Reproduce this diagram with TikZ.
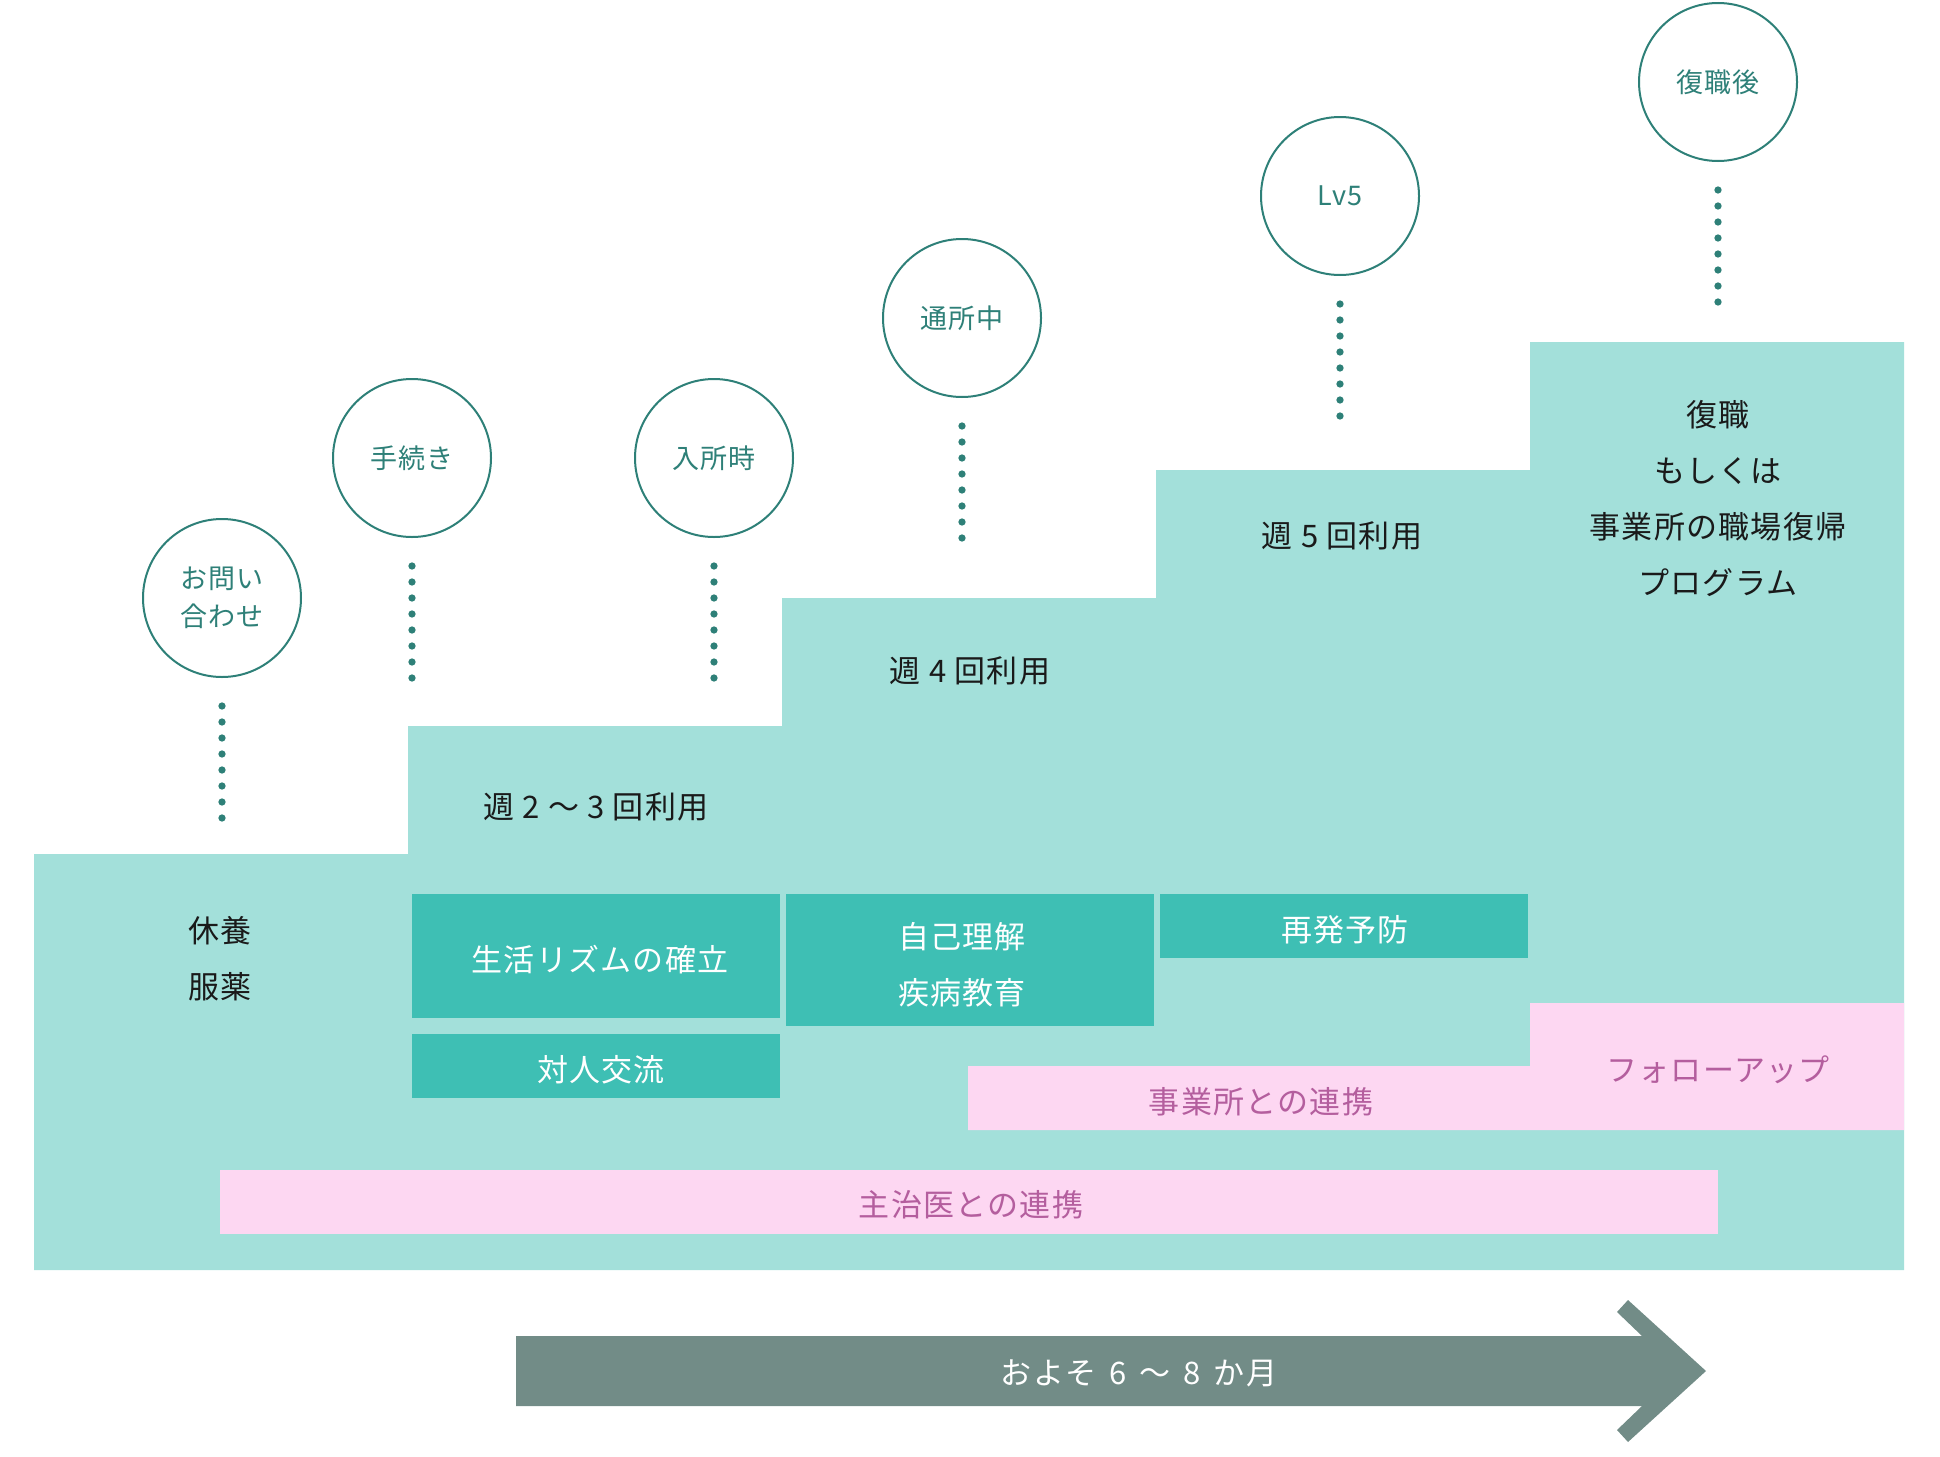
\documentclass[tikz,border=0pt]{standalone}
\usepackage{fontspec}
\setmainfont{Noto Sans CJK JP}[LetterSpace=4]
\definecolor{stepbg}{HTML}{A3E0DA}
\definecolor{boxteal}{HTML}{3EBFB4}
\definecolor{pinkbg}{HTML}{FDD7F2}
\definecolor{pinktxt}{HTML}{B45E9E}
\definecolor{arrowgray}{HTML}{728C87}
\definecolor{darkteal}{HTML}{2E8078}
\definecolor{txtblack}{HTML}{1A1A1A}
\begin{document}
\begin{tikzpicture}[x=1pt,y=-1pt,
  milestone/.style={circle,draw=darkteal,line width=2pt,fill=white,minimum size=158pt,inner sep=0pt,
    text=darkteal,align=center,font=\fontsize{27}{38}\selectfont},
  dotline/.style={draw=darkteal,line width=7.3pt,line cap=round,dash pattern=on 0pt off 16pt},
  steptext/.style={text=txtblack,align=center,inner sep=0pt,font=\fontsize{31}{56}\selectfont},
  boxtext/.style={text=white,align=center,inner sep=0pt,font=\fontsize{31}{56}\selectfont},
  tealbox/.style={fill=boxteal,inner sep=0pt,minimum width=368pt},
  pinkbox/.style={fill=pinkbg,inner sep=0pt},
  pinktext/.style={text=pinktxt,inner sep=0pt,font=\fontsize{31}{56}\selectfont}]
\useasboundingbox (0,0) rectangle (1940,1456);

% staircase background
\fill[stepbg] (34,854) -- (408,854) -- (408,726) -- (782,726) -- (782,598) -- (1156,598)
  -- (1156,470) -- (1530,470) -- (1530,342) -- (1904,342) -- (1904,1270) -- (34,1270) -- cycle;

% milestones
\node[milestone] (c1) at (222,598) {お問い\\合わせ};
\node[milestone] (c2) at (412,458) {手続き};
\node[milestone] (c3) at (714,458) {入所時};
\node[milestone] (c4) at (962,318) {通所中};
\node[milestone] (c5) at (1340,196) {Lv5};
\node[milestone] (c6) at (1718,82) {復職後};

\foreach \c in {c1,c2,c3,c4,c5,c6}{
  \draw[dotline] ([yshift=-28pt]\c.south) -- ++(0,112.5);
}

% step texts
\node[steptext] (rest) at (220,959) {休養\\服薬};
\node[steptext] (w23) at (596,807) {週 2 ～ 3 回利用};
\node[steptext] (w4) at (970,671) {週 4 回利用};
\node[steptext] (w5) at (1342,536) {週 5 回利用};
\node[steptext] (ret) at (1718,499) {復職\\もしくは\\事業所の職場復帰\\プログラム};

% teal boxes
\node[tealbox,minimum height=124pt] (rhythm) at (596,956) {};
\node[tealbox,minimum height=132pt] (self) at (970,960) {};
\node[tealbox,minimum height=64pt] (relapse) at (1344,926) {};
\node[tealbox,minimum height=64pt] (inter) at (596,1066) {};
\node[boxtext] (rhythmT) at (600,960) {生活リズムの確立};
\node[boxtext] (selfT) at (962,965) {自己理解\\疾病教育};
\node[boxtext] (relapseT) at (1345,930) {再発予防};
\node[boxtext] (interT) at (601,1070) {対人交流};

% pink cooperation areas
\fill[pinkbg] (968,1066) -- (1530,1066) -- (1530,1003) -- (1904,1003) -- (1904,1130) -- (968,1130) -- cycle;
\node[pinktext] (office) at (1261,1102) {事業所との連携};
\node[pinktext] (follow) at (1718,1070) {フォローアップ};
\node[pinkbox,minimum width=1498pt,minimum height=64pt] (doctor) at (969,1202) {};
\node[pinktext] (doctorT) at (971,1205) {主治医との連携};

% duration arrow
\fill[arrowgray] (516,1336) -- (1642,1336) -- (1617,1312) -- (1628,1300) -- (1706,1371)
  -- (1628,1442) -- (1617,1430) -- (1642,1406) -- (516,1406) -- cycle;
\node[text=white,inner sep=0pt,font=\fontsize{31}{40}\selectfont] (dur) at (1139,1373)
  {およそ\hspace{13pt}6\hspace{13pt}～\hspace{13pt}8\hspace{13pt}か月};
\end{tikzpicture}
\end{document}
